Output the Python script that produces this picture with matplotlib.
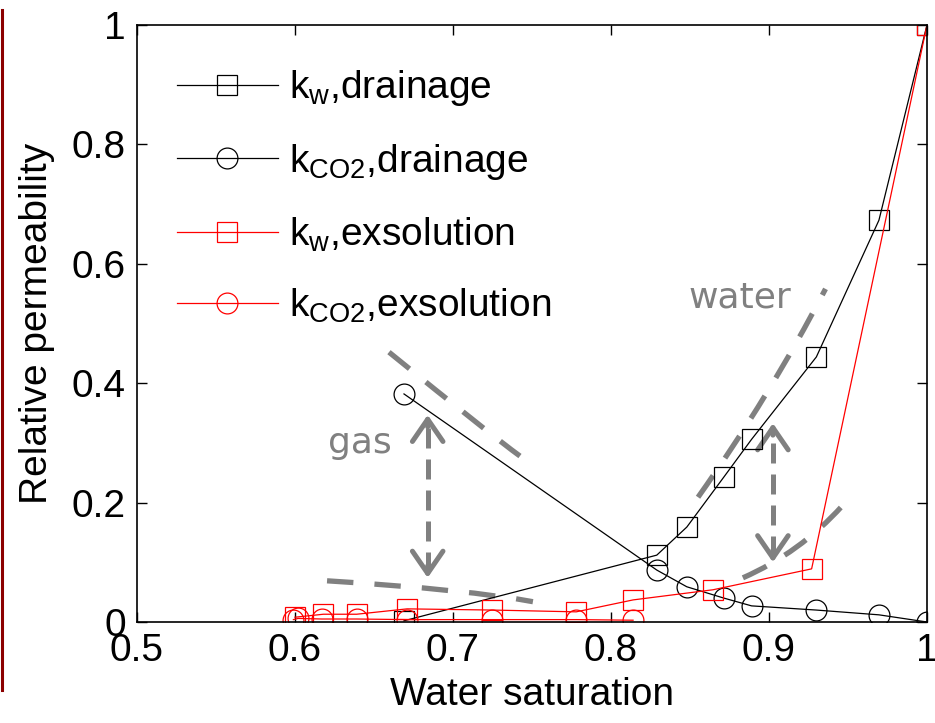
#!/usr/bin/env python3
import matplotlib
matplotlib.use("Agg")
import matplotlib.pyplot as plt
from matplotlib.path import Path
from matplotlib.patches import PathPatch
from matplotlib.lines import Line2D
from matplotlib.ticker import FormatStrFormatter

# water saturation / relative permeability, drainage
sw_kw_drain = [0.669, 0.829, 0.848, 0.8715, 0.889, 0.930, 0.9696, 1.0]
kw_drain = [0.002, 0.112, 0.159, 0.243, 0.306, 0.444, 0.673, 1.0]
sw_kg_drain = [0.669, 0.829, 0.848, 0.8715, 0.889, 0.930, 0.9696, 1.0]
kg_drain = [0.382, 0.087, 0.059, 0.040, 0.027, 0.020, 0.012, 0.0]

# exsolution
sw_kw_exs = [0.600, 0.618, 0.639, 0.671, 0.725, 0.778, 0.814, 0.8646, 0.927, 1.0]
kw_exs = [0.008, 0.013, 0.013, 0.022, 0.020, 0.017, 0.037, 0.054, 0.089, 1.0]
sw_kg_exs = [0.599, 0.602, 0.617, 0.639, 0.671, 0.725, 0.778, 0.814]
kg_exs = [0.004, 0.006, 0.005, 0.005, 0.004, 0.004, 0.004, 0.003]

labels = [
    r"k$_{\mathrm{w}}$,drainage",
    r"k$_{\mathrm{CO2}}$,drainage",
    r"k$_{\mathrm{w}}$,exsolution",
    r"k$_{\mathrm{CO2}}$,exsolution",
]

# guide curves (start, control, end) and double arrows (x, y_low, y_high)
gas_upper = [(0.6595, 0.452), (0.7241, 0.313), (0.7424, 0.278)]
gas_lower = [(0.6203, 0.069), (0.7108, 0.054), (0.7506, 0.034)]
water_upper = [(0.8551, 0.209), (0.9006, 0.379), (0.9358, 0.558)]
water_lower = [(0.8835, 0.074), (0.9196, 0.116), (0.9462, 0.194)]
gas_arrow = (0.684, 0.074, 0.347)
water_arrow = (0.9025, 0.100, 0.333)

GRAY = "#808080"


def guide(ax, pts):
    path = Path(pts, [Path.MOVETO, Path.CURVE3, Path.CURVE3])
    ax.add_patch(PathPatch(path, fill=False, edgecolor=GRAY, lw=3.8,
                           linestyle=(0, (5, 4)), capstyle="butt", zorder=1))


def double_arrow(ax, spec):
    x, y0, y1 = spec
    ax.plot([x, x], [y0 + 0.01, y1 - 0.01], color=GRAY, lw=3.6,
            linestyle=(0, (4, 2.2)), zorder=1)
    style = "->,head_length=0.8,head_width=0.55"
    for tip, tail in ((y1, y1 - 0.02), (y0, y0 + 0.02)):
        ax.annotate("", xy=(x, tip), xytext=(x, tail),
                    arrowprops=dict(arrowstyle=style, color=GRAY, lw=3.6,
                                    mutation_scale=20, shrinkA=0, shrinkB=0),
                    zorder=1)


def main():
    plt.rcParams["font.family"] = ["Liberation Sans", "DejaVu Sans"]
    plt.rcParams["mathtext.fontset"] = "custom"
    plt.rcParams["mathtext.rm"] = "Liberation Sans"
    plt.rcParams["mathtext.it"] = "Liberation Sans"

    fig = plt.figure(figsize=(9.35, 7.23), dpi=100)
    ax = fig.add_axes([0.1465, 0.1397, 0.8449, 0.8257])

    mk = dict(markersize=15, markerfacecolor="none", markeredgewidth=0.9, lw=0.9)
    ax.plot(sw_kw_drain, kw_drain, "s-", color="black", label=labels[0], **mk)
    ax.plot(sw_kg_drain, kg_drain, "o-", color="black", label=labels[1], **mk)
    ax.plot(sw_kw_exs, kw_exs, "s-", color="red", label=labels[2], **mk)
    ax.plot(sw_kg_exs, kg_exs, "o-", color="red", label=labels[3], **mk)

    for pts in (gas_upper, gas_lower, water_upper, water_lower):
        guide(ax, pts)
    double_arrow(ax, gas_arrow)
    double_arrow(ax, water_arrow)

    ax.text(0.6411, 0.300, "gas", color=GRAY, fontsize=26, family="DejaVu Sans",
            ha="center", va="center")
    ax.text(0.8816, 0.543, "water", color=GRAY, fontsize=26, family="DejaVu Sans",
            ha="center", va="center")

    ax.set_xlim(0.5, 1.0)
    ax.set_ylim(0, 1)
    ax.set_xticks([0.5, 0.6, 0.7, 0.8, 0.9, 1.0])
    ax.set_yticks([0, 0.2, 0.4, 0.6, 0.8, 1.0])
    ax.xaxis.set_major_formatter(FormatStrFormatter("%g"))
    ax.yaxis.set_major_formatter(FormatStrFormatter("%g"))
    ax.tick_params(direction="in", length=7, width=1, labelsize=28,
                   top=True, right=True, pad=8)
    for sp in ax.spines.values():
        sp.set_linewidth(1.2)
    ax.set_xlabel("Water saturation", fontsize=28, labelpad=6)
    ax.set_ylabel("Relative permeability", fontsize=28, labelpad=12)

    ax.legend(loc="upper left", bbox_to_anchor=(0.006, 0.986), frameon=False,
              fontsize=28, handlelength=2.6, handletextpad=0.3,
              labelspacing=0.86, borderaxespad=0.5, borderpad=0.4)

    # thin dark strip along the left border
    fig.add_artist(Line2D([1.5 / 935, 1.5 / 935], [33 / 723, 713 / 723],
                          color="#8b0000", lw=2.2, transform=fig.transFigure))

    fig.savefig("out.png", dpi=100)
    plt.close(fig)


if __name__ == "__main__":
    main()
